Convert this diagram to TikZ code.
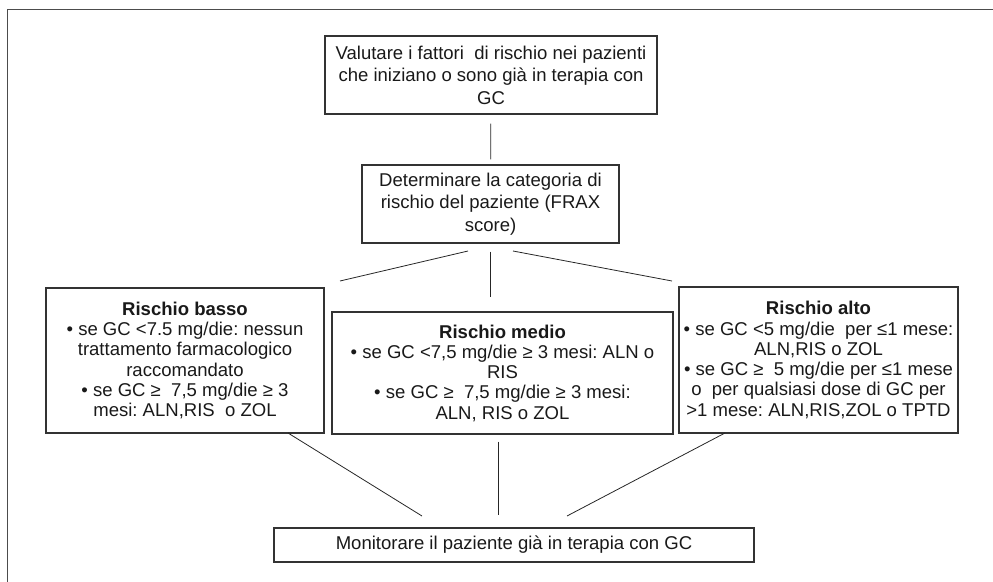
\documentclass[tikz,border=0pt]{standalone}
\usepackage{fontspec}
\setmainfont{Liberation Sans}
\frenchspacing
\begin{document}
\begin{tikzpicture}[x=0.75pt, y=-0.75pt, every node/.style={font=\fontsize{13.9}{16.9}\selectfont, text=black!90},
  bx/.style={draw=black!80, line width=0.9pt, align=center, inner sep=2pt},
  rk/.style={bx, font=\fontsize{13.9}{15.2}\selectfont},
  ln/.style={line width=0.6pt, black!85}]
\useasboundingbox (0,0) rectangle (993,582);
\draw[line width=1.1pt, black!70] (993,9.5) -| (7.5,582);
\node[bx, minimum width=332*0.75pt, minimum height=78*0.75pt] (val) at (491,75) {Valutare i fattori\ \ di rischio nei pazienti\\che iniziano o sono già in terapia con\\GC};
\node[bx, minimum width=257*0.75pt, minimum height=78*0.75pt] (det) at (490.5,204) {Determinare la categoria di\\rischio del paziente (FRAX\\score)};
\draw[ln, shorten <=6.75pt, shorten >=3.75pt] (val) -- (det);
% categorie di rischio
\node[rk, minimum width=278*0.75pt, minimum height=145*0.75pt] (basso) at (185,360.5) {\textbf{Rischio basso}\\• se GC <7.5 mg/die: nessun\\trattamento farmacologico\\raccomandato\\• se GC ≥\ \ 7,5 mg/die ≥ 3\\mesi: ALN,RIS\ \ o ZOL};
\node[rk, minimum width=341*0.75pt, minimum height=122*0.75pt] (medio) at (502.5,373) {\textbf{Rischio medio}\\• se GC <7,5 mg/die ≥ 3 mesi: ALN o\\RIS\\• se GC ≥\ \ 7,5 mg/die ≥ 3 mesi:\\ALN, RIS o ZOL};
\node[rk, minimum width=279*0.75pt, minimum height=146*0.75pt] (alto) at (818.5,360) {\textbf{Rischio alto}\\• se GC <5 mg/die\ \ per ≤1 mese:\\ALN,RIS o ZOL\\• se GC ≥\ \ 5 mg/die per ≤1 mese\\o\ \ per qualsiasi dose di GC per\\>1 mese: ALN,RIS,ZOL o TPTD};
\coordinate (dl) at (468,251); \coordinate (dr) at (513,251);
\coordinate (bt) at (340,281); \coordinate (at) at (672,281);
\draw[ln] (dl) -- (bt); \draw[ln] (dr) -- (at);
\draw[ln, shorten <=6pt, shorten >=11pt] (det) -- (det |- medio.north);
% monitoraggio
\node[bx, minimum width=480*0.75pt, minimum height=34*0.75pt] (mon) at (514,545) {Monitorare il paziente già in terapia con GC};
\coordinate (bb) at (288,433); \coordinate (ab) at (725,433);
\coordinate (ml) at (422,516); \coordinate (mr) at (567,516);
\draw[ln] (bb) -- (ml); \draw[ln] (ab) -- (mr);
\draw[ln, shorten <=5.25pt, shorten >=9pt] (medio.south -| mon) ++(-16,0) coordinate (mt) -- (mt |- mon.north);
\end{tikzpicture}
\end{document}
